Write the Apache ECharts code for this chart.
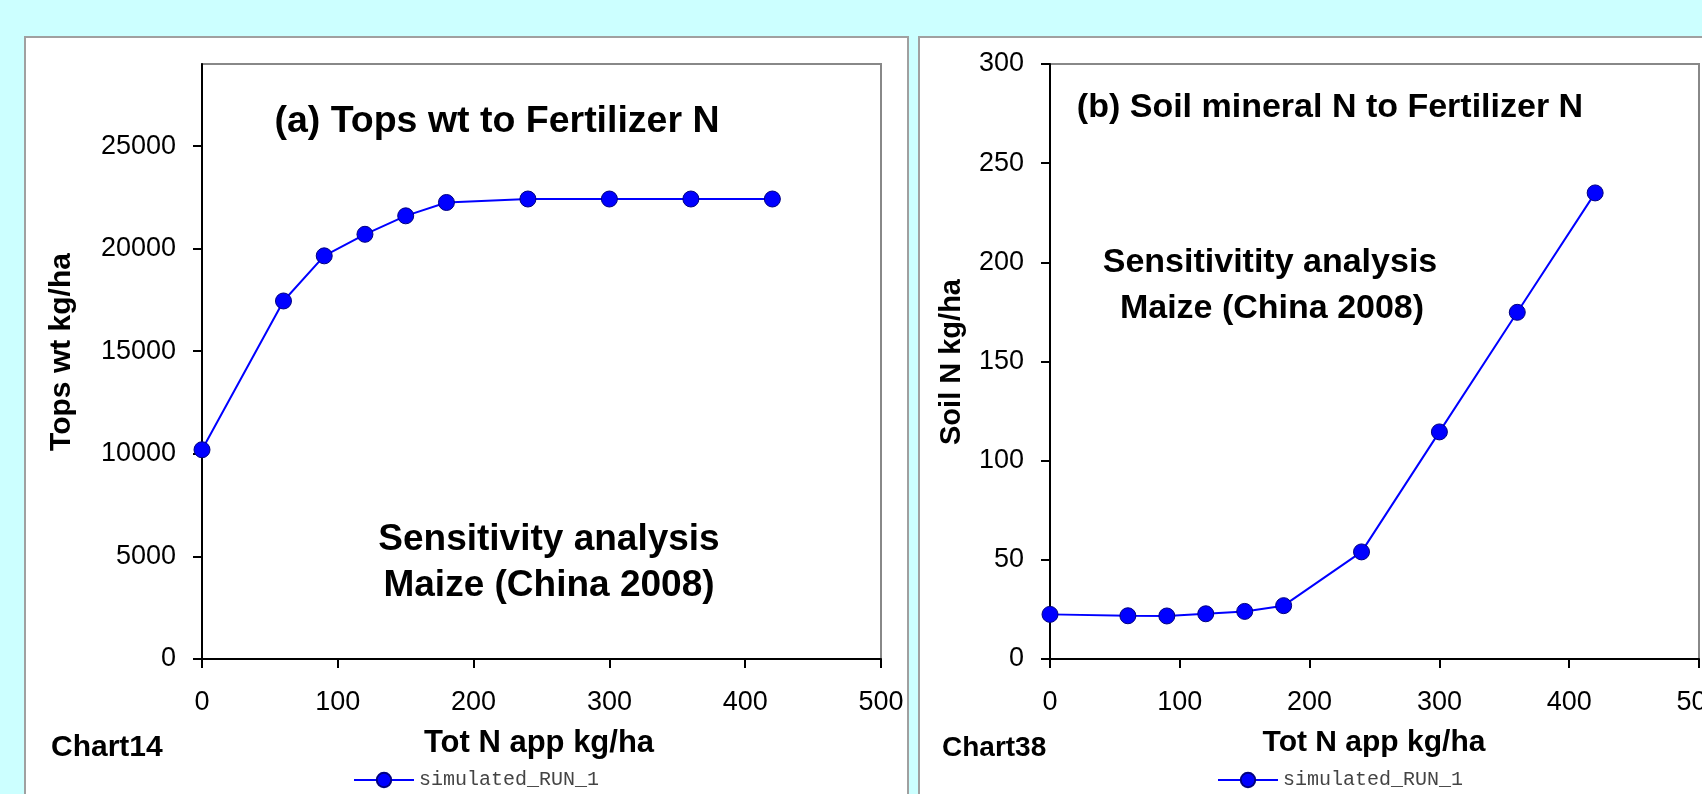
<!DOCTYPE html>
<html>
<head>
<meta charset="utf-8">
<title>Maize N sensitivity</title>
<script src="https://cdn.jsdelivr.net/npm/echarts@6/dist/echarts.min.js"></script>
<style>
  html, body { margin: 0; padding: 0; background: #ccffff; }
  #chart { width: 1702px; height: 794px; }
</style>
</head>
<body>
<div id="chart"></div>
<script>
// Fertilizer N applied (kg/ha) for each simulated run
const nApplied = [0, 60, 90, 120, 150, 180, 240, 300, 360, 420];
// (a) above-ground biomass at harvest, kg/ha
const topsWt = [10200, 17450, 19650, 20700, 21600, 22250, 22420, 22420, 22420, 22420];
// (b) soil mineral N left after harvest, kg/ha
const soilN = [22.5, 21.8, 21.7, 22.8, 24.0, 26.9, 54.0, 114.5, 174.8, 235.0];

// axis tick values
const xTicks = [0, 100, 200, 300, 400, 500];
const topsTicks = [0, 5000, 10000, 15000, 20000, 25000];
const soilTicks = [0, 50, 100, 150, 200, 250, 300];

const seriesName = 'simulated_RUN_1';
const FONT = '"Liberation Sans", Arial, sans-serif';
const MONO = '"Liberation Mono", "Courier New", monospace';

function pairs(xs, ys) { return xs.map((x, i) => [x, ys[i]]); }
const plain = v => String(v);

function xAxisCfg(gridIndex) {
  return {
    type: 'value', gridIndex: gridIndex,
    min: xTicks[0], max: xTicks[xTicks.length - 1], interval: 100,
    axisLine: { show: true, onZero: false, lineStyle: { color: '#000', width: 2 } },
    axisTick: { show: true, inside: false, length: 9, lineStyle: { color: '#000', width: 2 }, customValues: xTicks },
    axisLabel: { show: true, margin: 30, color: '#000', fontSize: 27, fontFamily: FONT, formatter: plain, customValues: xTicks },
    splitLine: { show: false }
  };
}

function yAxisCfg(gridIndex, max, interval, ticks) {
  return {
    type: 'value', gridIndex: gridIndex,
    min: 0, max: max, interval: interval,
    axisLine: { show: true, onZero: false, lineStyle: { color: '#000', width: 2 } },
    axisTick: { show: true, inside: false, length: 9, lineStyle: { color: '#000', width: 2 }, customValues: ticks },
    axisLabel: { show: true, margin: 26, color: '#000', fontSize: 27, fontFamily: FONT, formatter: plain, customValues: ticks },
    splitLine: { show: false }
  };
}

function lineSeries(xIdx, yIdx, data) {
  return {
    name: seriesName, type: 'line',
    xAxisIndex: xIdx, yAxisIndex: yIdx,
    data: data,
    symbol: 'circle', symbolSize: 16,
    lineStyle: { color: '#0000ff', width: 2 },
    itemStyle: { color: '#0000ff', borderColor: '#000080', borderWidth: 1 },
    emphasis: { disabled: true },
    z: 3
  };
}

function txt(x, y, text, size, opts) {
  return Object.assign({
    type: 'text', x: x, y: y, z: 50,
    style: {
      text: text, fill: '#000',
      font: 'bold ' + size + 'px ' + FONT,
      align: 'center', verticalAlign: 'middle'
    }
  }, opts || {});
}

function leftTxt(x, y, text, size) {
  return {
    type: 'text', x: x, y: y, z: 50,
    style: { text: text, fill: '#000', font: 'bold ' + size + 'px ' + FONT, align: 'left', verticalAlign: 'middle' }
  };
}

function legendCfg(left) {
  return {
    left: left, top: 765, itemWidth: 60, itemHeight: 18, itemGap: 4,
    selectedMode: false, data: [seriesName],
    textStyle: { color: '#444', fontSize: 20, fontFamily: MONO }
  };
}

const chart = echarts.init(document.getElementById('chart'), null, { renderer: 'canvas' });

const option = {
  animation: false,
  backgroundColor: '#ccffff',
  grid: [
    { left: 202, top: 64, width: 679, height: 595, outerBoundsMode: 'none', containLabel: false,
      show: true, backgroundColor: 'transparent', borderColor: '#888', borderWidth: 2 },
    { left: 1050, top: 64, width: 649, height: 595, outerBoundsMode: 'none', containLabel: false,
      show: true, backgroundColor: 'transparent', borderColor: '#888', borderWidth: 2 }
  ],
  xAxis: [xAxisCfg(0), xAxisCfg(1)],
  yAxis: [
    yAxisCfg(0, 29000, 5000, topsTicks),
    yAxisCfg(1, 300, 50, soilTicks)
  ],
  legend: [legendCfg(348), legendCfg(1212)],
  series: [
    lineSeries(0, 0, pairs(nApplied, topsWt)),
    lineSeries(1, 1, pairs(nApplied, soilN))
  ],
  graphic: [
    // white chart panels
    { type: 'rect', z: -10, shape: { x: 25, y: 37, width: 883, height: 800 },
      style: { fill: '#fff', stroke: '#a0a0a0', lineWidth: 2 } },
    { type: 'rect', z: -10, shape: { x: 919, y: 37, width: 900, height: 800 },
      style: { fill: '#fff', stroke: '#a0a0a0', lineWidth: 2 } },

    // panel (a)
    txt(497, 122, '(a) Tops wt to Fertilizer N', 37.5),
    txt(549, 540, 'Sensitivity analysis', 37),
    txt(549, 586, 'Maize (China 2008)', 37),
    txt(62, 352, 'Tops wt kg/ha', 30, { rotation: Math.PI / 2 }),
    txt(539, 743, 'Tot N app kg/ha', 31),
    leftTxt(51, 748, 'Chart14', 30),

    // panel (b)
    txt(1330, 108, '(b) Soil mineral N to Fertilizer N', 34),
    txt(1270, 263, 'Sensitivitity analysis', 34),
    txt(1272, 309, 'Maize (China 2008)', 34),
    txt(952, 362, 'Soil N kg/ha', 29, { rotation: Math.PI / 2 }),
    txt(1374, 743, 'Tot N app kg/ha', 30),
    leftTxt(942, 748, 'Chart38', 28)
  ]
};

chart.setOption(option);
</script>
</body>
</html>
